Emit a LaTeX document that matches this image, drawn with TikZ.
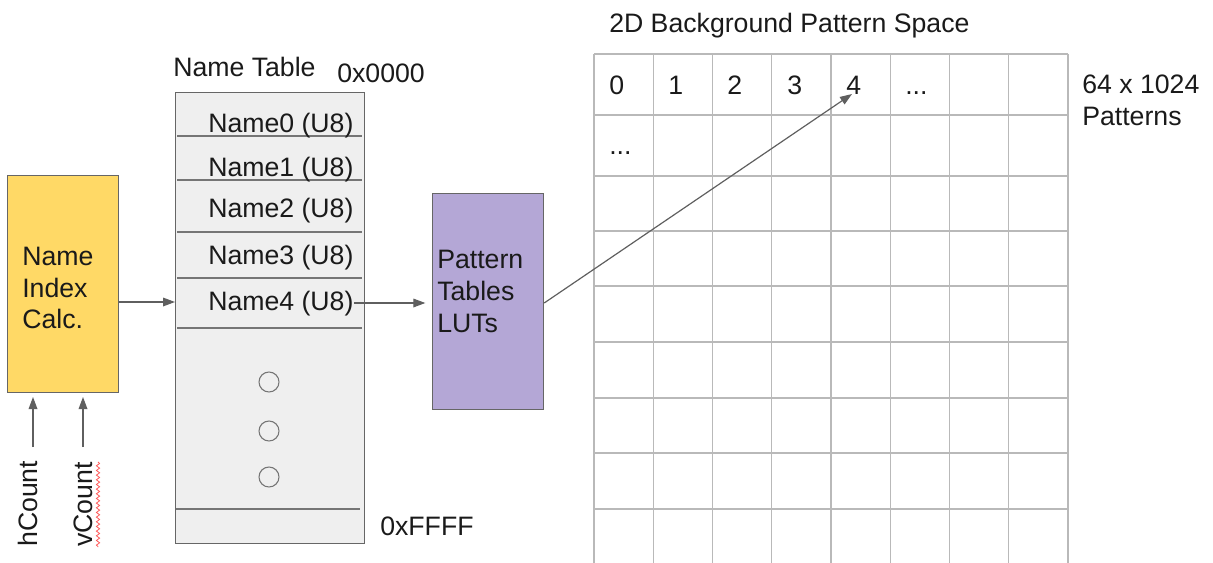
\documentclass[tikz,border=0pt]{standalone}
\usepackage{fontspec}
\setmainfont{Liberation Sans}
\usetikzlibrary{arrows.meta,decorations.pathmorphing}
\definecolor{calcfill}{HTML}{FFD966}
\definecolor{tablefill}{HTML}{EFEFEF}
\definecolor{lutfill}{HTML}{B4A7D6}
\definecolor{edge}{HTML}{666666}
\definecolor{wire}{HTML}{5F5F5F}
\definecolor{cellline}{HTML}{B9B9B9}
\definecolor{ink}{HTML}{1A1A1A}
\begin{document}
\begin{tikzpicture}[x=0.75pt,y=-0.75pt,
  lbl/.style={font=\fontsize{20}{24}\selectfont, text=ink, inner sep=0pt, anchor=base west},
  box/.style={draw=edge, line width=0.9pt, inner sep=0pt, anchor=north west},
  divider/.style={draw=edge!90, line width=0.9pt},
  conn/.style={draw=wire, line width=0.9pt, -{Triangle[length=9pt,width=6.5pt]}},
  gridline/.style={draw=cellline, line width=1.1pt},
  dot/.style={circle, draw=edge!90, line width=0.8pt, inner sep=0pt, minimum size={20*0.75pt}}]
\useasboundingbox (0,0) rectangle (1213,563);

% ---- index calculator ----
\node[box, fill=calcfill, minimum width={111*0.75pt}, minimum height={217*0.75pt}] (calc) at (7,175) {};
\node[lbl] (calcA) at (22,265) {Name};
\node[lbl] (calcB) at (22,297) {Index};
\node[lbl] (calcC) at (22,328) {Calc.};

% counter inputs
\node[lbl, rotate=90] (hcount) at (37,547) {hCount};
\node[lbl, rotate=90] (vcount) at (92,547) {vCount};
\draw[red!65, line width=0.6pt, decorate, decoration={snake, amplitude=1.2pt, segment length=3.5pt}]
  (98,462) -- (98,547);
\coordinate (hin) at (33,447);
\coordinate (vin) at (83,447);
\coordinate (inTop) at (0,397);
\draw[conn] (hin) -- (hin |- inTop);
\draw[conn] (vin) -- (vin |- inTop);

% ---- name table ----
\node[box, fill=tablefill, minimum width={189*0.75pt}, minimum height={451*0.75pt}] (table) at (175,92) {};
\node[lbl] (tabletitle) at (173,77) {Name Table};
\node[lbl] (addrlo) at (337,83) {0x0000};
\node[lbl] (addrhi) at (380,535) {0xFFFF};
\foreach \y in {136,180,232,278,328}
  \draw[divider] (177,\y) -- (362,\y);
\draw[divider] (176,509) -- (360,509);
\node[lbl] (name0) at (208,133) {Name0 (U8)};
\node[lbl] (name1) at (208,176) {Name1 (U8)};
\node[lbl] (name2) at (208,217) {Name2 (U8)};
\node[lbl] (name3) at (208,264) {Name3 (U8)};
\node[lbl] (name4) at (208,310) {Name4 (U8)};
\node[dot] (dot1) at (269,382) {};
\node[dot] (dot2) at (269,431) {};
\node[dot] (dot3) at (269,477) {};

% ---- pattern table lookup ----
\node[box, fill=lutfill, minimum width={111*0.75pt}, minimum height={216*0.75pt}] (luts) at (432,193) {};
\node[lbl] (lutA) at (437,268) {Pattern};
\node[lbl] (lutB) at (437,300) {Tables};
\node[lbl] (lutC) at (437,332) {LUTs};

% ---- pattern space grid ----
\node[lbl] (spacetitle) at (609,33) {2D Background Pattern Space};
\foreach \y in {54,115,176,231,286,342,398,453,509}
  \draw[gridline] (594,\y) -- (1068,\y);
\foreach \i in {0,...,8}
  \draw[gridline] ({594+59.25*\i},54) -- ({594+59.25*\i},563);
\node[lbl] (c0) at (609,95) {0};
\node[lbl] (c1) at (668,95) {1};
\node[lbl] (c2) at (727,95) {2};
\node[lbl] (c3) at (787,95) {3};
\node[lbl] (c4) at (846,95) {4};
\node[lbl] (c5) at (905,95) {...};
\node[lbl] (r1) at (609,155) {...};
\node[lbl] (count) at (1082,94) {64 x 1024};
\node[lbl] (countB) at (1082,126) {Patterns};

% ---- connections ----
\coordinate (rowsel) at (0,302);
\coordinate (namesel) at (0,303);
\coordinate (cell4) at (852,94);
\draw[conn] (calc.east |- rowsel) -- (table.west |- rowsel);
\draw[conn, shorten >=5pt] (name4.east |- namesel) -- (luts.west |- namesel);
\draw[conn] (luts.east |- namesel) -- (cell4);
\end{tikzpicture}
\end{document}
